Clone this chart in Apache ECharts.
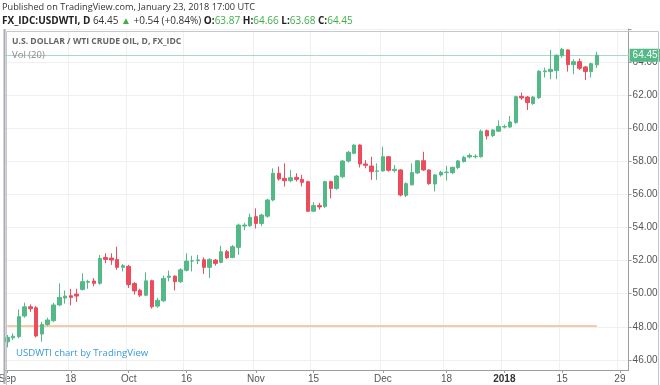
<!DOCTYPE html>
<html><head><meta charset="utf-8">
<script src="https://cdn.jsdelivr.net/npm/echarts@6/dist/echarts.min.js"></script>
<style>html,body{margin:0;padding:0;background:#fff}#c{width:660px;height:385px}</style>
</head><body><div id="c"></div>
<script>
// Daily candles, 1 Sep 2017 .. 23 Jan 2018
const opens  = [47.09,47.33,47.40,48.65,49.21,49.15,47.56,48.14,48.37,49.32,
                49.74,49.88,49.98,50.26,50.70,50.77,50.63,52.20,52.16,52.08,
                51.60,51.66,50.62,50.21,49.91,50.79,49.25,49.57,51.00,51.07,
                50.73,51.42,51.98,52.00,52.06,51.60,52.04,51.90,52.55,52.20,
                52.81,54.10,54.12,54.67,54.26,54.70,55.68,57.30,56.99,56.85,
                57.05,56.93,56.79,55.00,55.34,55.28,56.79,56.38,57.09,58.04,
                58.51,59.01,57.86,57.74,57.42,57.44,58.30,57.46,57.50,55.96,
                56.60,57.32,58.06,57.50,56.65,57.20,57.34,57.33,57.65,58.01,
                58.29,58.30,58.30,59.88,59.58,59.85,60.10,60.10,60.37,61.96,
                61.92,61.52,61.88,63.45,63.46,63.52,64.42,64.77,63.88,64.06,
                63.74,63.46,63.87];
const closes = [47.36,47.43,48.61,49.21,49.09,47.44,48.14,48.41,49.32,49.78,
                49.86,49.78,49.86,50.73,50.74,50.63,52.14,52.08,52.04,51.60,
                51.70,50.55,50.17,49.91,50.78,49.21,49.60,50.93,51.07,50.73,
                51.45,51.98,52.00,52.05,51.60,52.08,51.84,52.55,52.18,52.85,
                54.16,54.16,54.63,54.26,54.77,55.68,57.30,56.95,56.85,57.03,
                56.93,56.75,55.00,55.34,55.26,56.79,56.38,57.13,58.04,58.57,
                59.01,57.86,57.78,57.40,57.44,58.30,57.48,57.54,55.98,56.67,
                57.35,58.06,57.50,56.67,57.20,57.36,57.37,57.66,58.05,58.26,
                58.38,58.33,59.85,59.56,59.92,60.14,60.13,60.41,61.94,61.86,
                61.58,61.92,63.48,63.50,63.60,64.45,64.81,63.88,64.06,63.66,
                63.46,63.94,64.45];
const lows   = [46.75,47.20,47.30,48.55,48.90,47.35,47.09,48.05,48.30,49.25,
                49.40,49.30,49.50,50.20,50.30,50.45,50.55,51.85,51.75,51.45,
                51.35,50.35,49.95,49.80,49.85,49.10,49.15,49.50,50.75,50.20,
                50.65,51.35,51.35,51.80,51.20,50.95,51.70,51.85,52.10,52.15,
                52.35,53.85,54.05,53.95,54.10,54.60,55.60,56.85,56.50,56.75,
                56.80,56.50,54.95,54.95,55.10,55.20,55.78,56.30,57.00,57.95,
                58.45,57.65,57.60,56.90,56.90,57.40,57.40,57.35,55.90,55.85,
                56.55,57.25,57.45,56.60,56.20,57.10,56.85,57.25,57.55,57.95,
                58.20,58.20,58.25,59.35,59.50,59.80,60.02,60.05,60.30,61.75,
                61.13,61.45,61.80,63.10,63.00,63.00,64.30,63.46,63.30,63.55,
                62.95,63.10,63.68];
const highs  = [47.50,47.60,49.05,49.46,49.35,49.25,48.30,48.55,49.45,50.63,
                50.20,50.30,50.30,51.24,50.85,50.95,52.35,52.45,52.45,52.85,
                51.80,51.75,50.70,50.30,51.30,50.85,49.75,51.10,51.40,51.10,
                51.55,52.45,52.30,52.35,52.20,52.15,52.10,52.90,52.65,52.95,
                54.25,54.30,54.85,55.17,54.85,55.75,57.60,57.70,57.90,57.50,
                57.30,57.20,56.85,55.55,55.50,56.85,56.85,57.20,58.10,58.65,
                59.05,59.05,58.10,58.30,57.90,58.90,58.35,57.80,57.55,56.75,
                57.90,58.10,58.60,57.55,57.25,57.45,57.75,57.70,58.10,58.35,
                58.50,58.45,59.95,59.95,59.98,60.50,60.25,60.77,62.00,62.18,
                61.98,61.98,63.55,63.70,64.77,64.50,64.90,64.80,64.20,64.25,
                63.80,64.00,64.66];
const lastPrice = 64.45;
const volMaLevel = 48.08;
const tickDates  = ['2017-09-01','2017-09-18','2017-10-02','2017-10-16','2017-11-01','2017-11-15',
                    '2017-12-01','2017-12-18','2018-01-01','2018-01-15','2018-01-29'];
const tickLabels = ['Sep','18','Oct','16','Nov','15','Dec','18','2018','15','29'];

// trading-day categories (weekdays) through 30 Jan 2018
const categories = [];
for (let d = new Date(Date.UTC(2017,8,1)); d <= new Date(Date.UTC(2018,0,30)); d.setUTCDate(d.getUTCDate()+1)) {
  const wd = d.getUTCDay();
  if (wd !== 0 && wd !== 6) categories.push(d.toISOString().slice(0,10));
}
const candleData = opens.map((o,i)=>[o, closes[i], lows[i], highs[i]]);
const isTick = (idx, val) => tickDates.indexOf(categories[idx]) >= 0;

const GREEN = '#53b987', RED = '#eb4d5c';
const FONT = 'Open Sans';
const chart = echarts.init(document.getElementById('c'), null, {renderer:'canvas'});
chart.setOption({
  animation: false,
  backgroundColor: '#ffffff',
  textStyle: {fontFamily: FONT},
  grid: {left: 4.4, right: 31.4, top: 29, bottom: 15, containLabel: false, outerBoundsMode: 'none'},
  xAxis: {
    type: 'category', data: categories, boundaryGap: true,
    axisLine: {lineStyle: {color: '#9a9da5', width: 1}},
    axisTick: {show: true, interval: isTick, alignWithLabel: true, length: 3, lineStyle: {color: '#9a9da5'}},
    axisLabel: {
      interval: isTick, margin: 4, color: '#555', fontSize: 10, fontFamily: 'Liberation Sans',
      alignMinLabel: 'center', alignMaxLabel: 'center',
      formatter: (v) => { const k = tickDates.indexOf(v); if (k < 0) return ''; return tickLabels[k] === '2018' ? '{b|2018}' : tickLabels[k]; },
      rich: {b: {fontWeight: 'bold', color: '#333', fontSize: 10, fontFamily: 'Liberation Sans'}}
    },
    splitLine: {show: true, interval: isTick, lineStyle: {color: '#eef0f4', width: 1}}
  },
  yAxis: {
    type: 'value', position: 'right', min: 45.38, max: 66.04, splitNumber: 10,
    axisLine: {show: true, lineStyle: {color: '#9a9da5'}},
    axisTick: {show: true, length: 3, lineStyle: {color: '#9a9da5'}},
    axisLabel: {
      margin: 4, color: '#555', fontSize: 10, fontFamily: 'Liberation Sans',
      showMinLabel: false, showMaxLabel: false,
      formatter: (v) => (v >= 45.9 && v <= 64.1 && Math.abs(v/2 - Math.round(v/2)) < 1e-6) ? v.toFixed(2) : ''
    },
    splitLine: {show: true, lineStyle: {color: '#eef0f4', width: 1}}
  },
  series: [{
    type: 'candlestick', data: candleData, barWidth: 4,
    itemStyle: {color: GREEN, color0: RED, borderColor: GREEN, borderColor0: RED, borderWidth: 1},
    markLine: {
      symbol: ['none','none'], silent: true, animation: false, z: 1,
      data: [
        {yAxis: lastPrice, lineStyle: {color: '#a6dac4', width: 1, type: 'solid'},
         label: {show: true, position: 'end', distance: 1, formatter: lastPrice.toFixed(2), color: '#fff',
                 backgroundColor: GREEN, padding: [2,3,1,3], fontSize: 10, fontFamily: 'Liberation Sans'}},
        [{coord: [categories[0], volMaLevel], lineStyle: {color: '#f6c9a9', width: 2, type: 'solid'}, label: {show: false}},
         {coord: [categories[opens.length-1], volMaLevel]}]
      ]
    }
  }],
  graphic: [
    {type: 'rect', z: 100, left: 4, top: 29, shape: {width: 652, height: 355}, style: {fill: 'none', stroke: '#c4c7cc', lineWidth: 1}, silent: true},
    {type: 'line', z: 100, shape: {x1: 4.5, y1: 29, x2: 4.5, y2: 384}, style: {stroke: '#a9acb2', lineWidth: 2}, silent: true},
    {type: 'text', z: 100, left: 2, top: 3, style: {text: 'Published on TradingView.com, January 23, 2018 17:00 UTC', fontSize: 9.2, fontFamily: FONT, fill: '#333'}},
    {type: 'text', z: 100, left: 2, top: 16, style: {
      text: '{b|FX_IDC:USDWTI, D} {n|64.45} {g|▲} {n|+0.54 (+0.84%)} {b|O:}{g|63.87} {b|H:}{g|64.66} {b|L:}{g|63.68} {b|C:}{g|64.45}',
      fontSize: 10, fontFamily: FONT,
      rich: {
        b: {fontWeight: 'bold', fill: '#222', fontSize: 10, fontFamily: FONT},
        n: {fill: '#333', fontSize: 10, fontFamily: FONT},
        g: {fill: '#3fae49', fontSize: 10, fontFamily: FONT}
      }}},
    {type: 'text', z: 100, left: 12, top: 37, style: {text: 'U.S. DOLLAR / WTI CRUDE OIL, D, FX_IDC', fontSize: 8.6, fontWeight: 'bold', fontFamily: FONT, fill: '#666'}},
    {type: 'text', z: 100, left: 12, top: 50, style: {text: 'Vol (20)', fontSize: 9.5, fontFamily: FONT, fill: '#888'}},
    {type: 'text', z: 100, left: 16, top: 348, style: {text: 'USDWTI chart by TradingView', fontSize: 9.6, fontFamily: FONT, fill: '#3a9ad9'}}
  ]
});
</script>
</body></html>
